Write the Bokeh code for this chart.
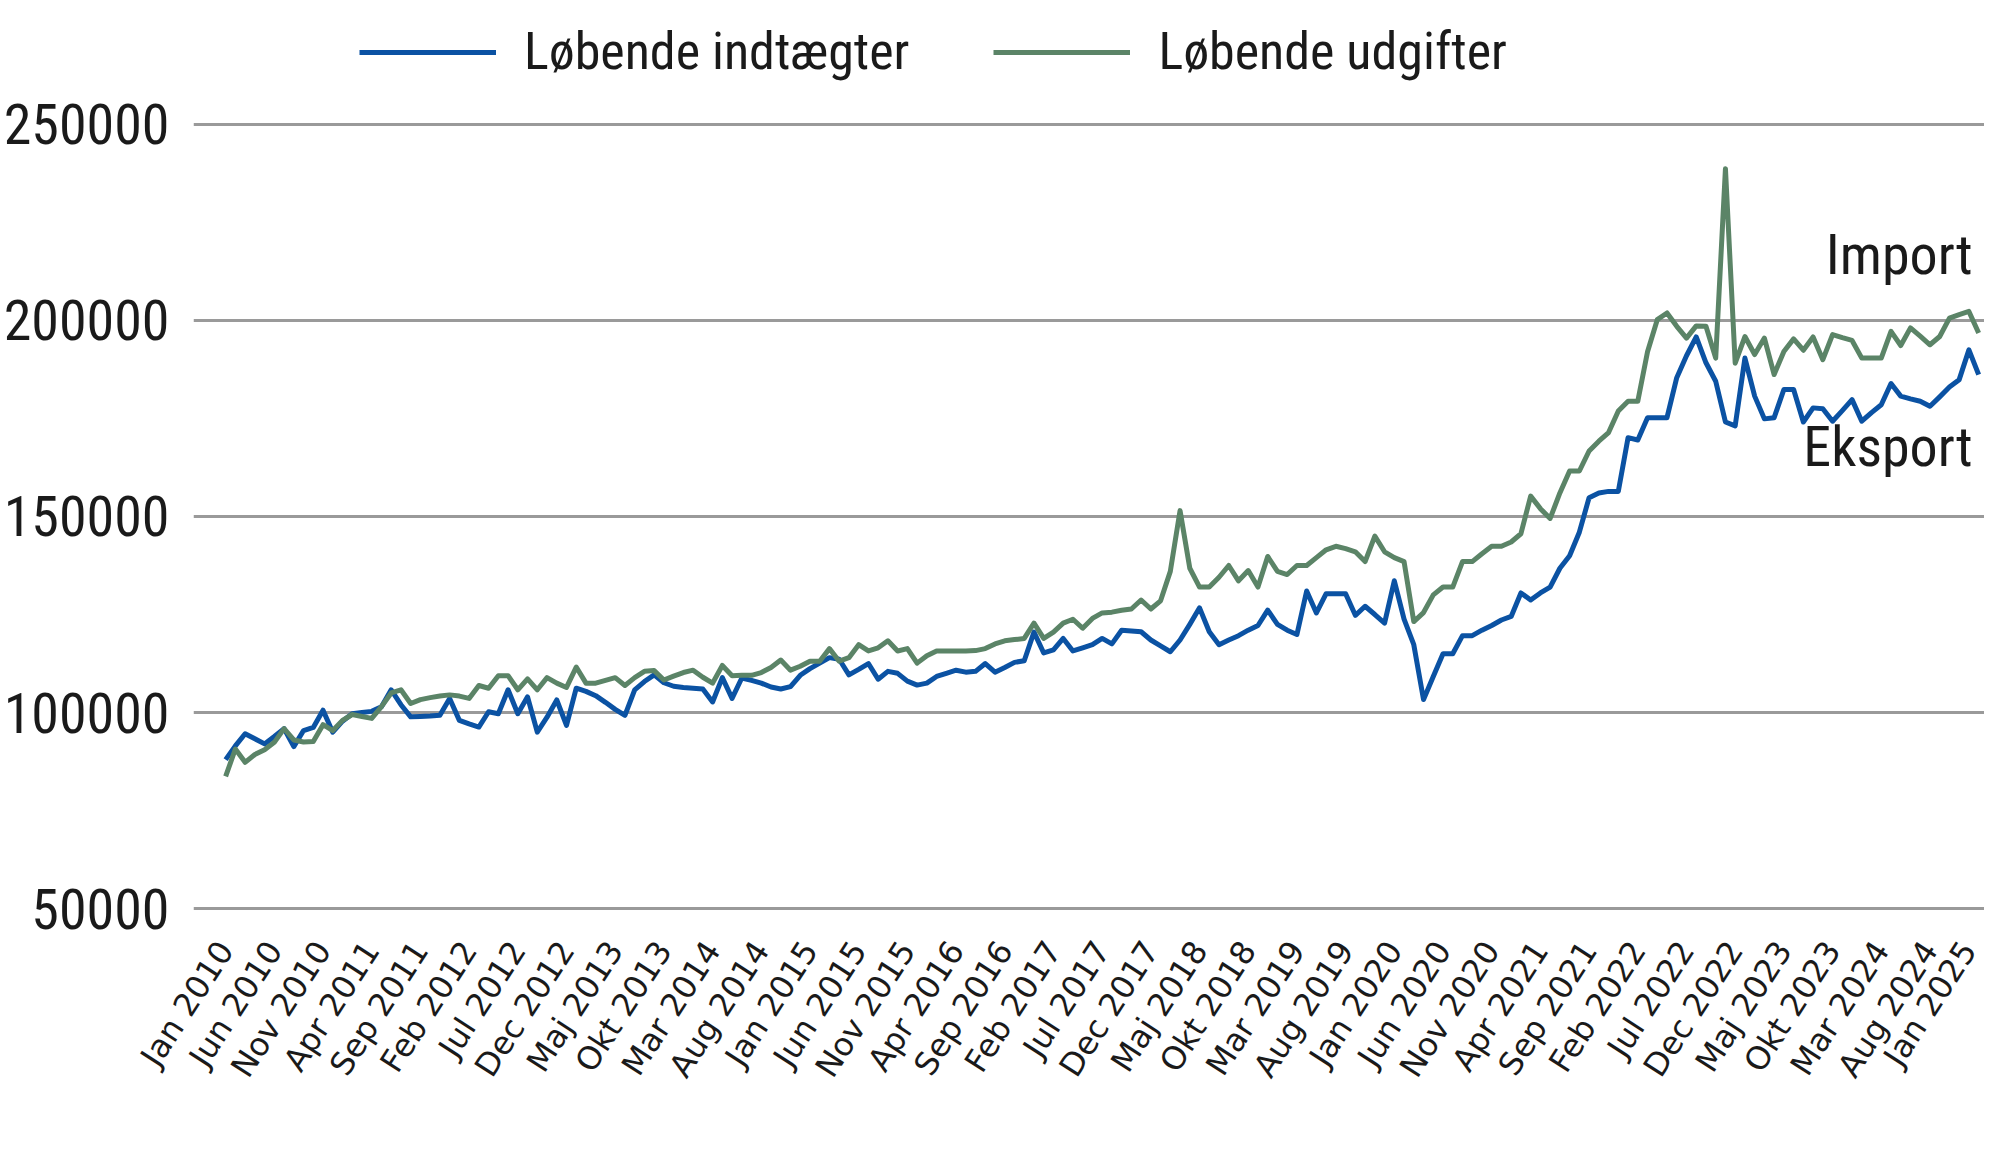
import math
from bokeh.plotting import figure
from bokeh.models import Legend, LegendItem, FixedTicker, Label, Range1d
from bokeh.embed import file_html
from bokeh.resources import INLINE

# x-axis tick labels (every 5th month, Jan 2010 .. Jan 2025)
tick_labels = ["Jan 2010", "Jun 2010", "Nov 2010", "Apr 2011", "Sep 2011", "Feb 2012",
               "Jul 2012", "Dec 2012", "Maj 2013", "Okt 2013", "Mar 2014", "Aug 2014",
               "Jan 2015", "Jun 2015", "Nov 2015", "Apr 2016", "Sep 2016", "Feb 2017",
               "Jul 2017", "Dec 2017", "Maj 2018", "Okt 2018", "Mar 2019", "Aug 2019",
               "Jan 2020", "Jun 2020", "Nov 2020", "Apr 2021", "Sep 2021", "Feb 2022",
               "Jul 2022", "Dec 2022", "Maj 2023", "Okt 2023", "Mar 2024", "Aug 2024",
               "Jan 2025"]

y_ticks = [50000, 100000, 150000, 200000, 250000]
y_labels = ["50000", "100000", "150000", "200000", "250000"]

# Løbende indtægter (blue), monthly Jan 2010 .. Jan 2025
indtaegter = [
    88000, 91500, 94600, 93300, 92000, 93900, 95900, 91300, 95400, 96200,
    100600, 95000, 97800, 99700, 100000, 100300, 101500, 105800, 102000, 98900,
    99000, 99100, 99300, 103600, 98000, 97100, 96300, 100200, 99700, 105800,
    99700, 104000, 95000, 98800, 103200, 96700, 106200, 105400, 104300, 102600,
    100800, 99300, 105800, 107900, 109600, 107600, 106700, 106400, 106200, 106000,
    102700, 108900, 103600, 108800, 108200, 107500, 106500, 106000, 106600, 109500,
    111200, 112600, 114000, 113600, 109600, 111000, 112500, 108500, 110500, 110000,
    108000, 107000, 107500, 109200, 110000, 110800, 110300, 110500, 112500, 110300,
    111500, 112800, 113200, 120500, 115200, 116000, 118900, 115700, 116500, 117300,
    118900, 117500, 121000, 120800, 120600, 118500, 117000, 115500, 118500, 122500,
    126700, 120600, 117300, 118500, 119600, 121000, 122200, 126100, 122500, 121000,
    119900, 131000, 125400, 130300, 130300, 130300, 124800, 127100, 125000, 122800,
    133600, 123800, 117300, 103300, 109200, 115000, 115000, 119600, 119600, 121000,
    122200, 123600, 124500, 130500, 128700, 130500, 132000, 136800, 140000, 146000,
    154800, 156000, 156400, 156400, 170100, 169500, 175200, 175200, 175200, 185400,
    191000, 195800, 189200, 184500, 174100, 173100, 190400, 180700, 174900, 175200,
    182400, 182400, 174100, 177700, 177500, 174300, 177000, 179800, 174300, 176500,
    178500, 183900, 180700, 180000, 179400, 178100, 180500, 183000, 184900, 192500,
    186200,
]

# Løbende udgifter (green), monthly Jan 2010 .. Jan 2025
udgifter = [
    83700, 90700, 87300, 89300, 90500, 92400, 95900, 93000, 92500, 92600,
    96900, 95400, 98000, 99500, 99000, 98500, 101500, 105000, 105800, 102300,
    103300, 103800, 104200, 104500, 104200, 103600, 106900, 106200, 109400, 109400,
    105800, 108600, 105800, 108900, 107500, 106400, 111600, 107500, 107500, 108200,
    108900, 106900, 108900, 110500, 110700, 108300, 109300, 110200, 110800, 109000,
    107500, 112000, 109400, 109500, 109500, 110200, 111500, 113400, 110800, 111800,
    113100, 113100, 116300, 113100, 114000, 117300, 115700, 116500, 118300, 115700,
    116300, 112600, 114500, 115700, 115700, 115700, 115700, 115800, 116300, 117500,
    118300, 118600, 118900, 122800, 118900, 120500, 122800, 123800, 121500, 124000,
    125400, 125600, 126100, 126400, 128700, 126400, 128500, 136000, 151500, 136800,
    132000, 132000, 134500, 137500, 133600, 136200, 132000, 139800, 136000, 135200,
    137500, 137500, 139500, 141500, 142400, 141800, 141000, 138500, 145000, 141000,
    139500, 138500, 123200, 125500, 130000, 132000, 132000, 138500, 138500, 140500,
    142400, 142400, 143500, 145600, 155200, 152000, 149500, 156000, 161600, 161600,
    166700, 169200, 171400, 176900, 179400, 179400, 192000, 200200, 201900, 198500,
    195500, 198600, 198500, 190400, 238700, 189100, 195900, 191300, 195500, 186200,
    192100, 195300, 192400, 195800, 190000, 196400, 195600, 194900, 190400, 190400,
    190400, 197200, 193600, 198100, 196000, 193800, 195900, 200600, 201500, 202300,
    196800,
]

months = list(range(len(indtaegter)))
tick_pos = list(range(0, len(indtaegter), 5))

NARROW = "'Liberation Sans Narrow', 'Arial Narrow', 'Roboto Condensed', 'Noto Sans'"
TXT = "#1a1a1a"

p = figure(width=1984, height=1149, output_backend="svg", toolbar_location=None,
           x_range=Range1d(-3.3, 180.6), y_range=Range1d(49000, 281600),
           min_border_left=170, min_border_right=0, min_border_top=0,
           min_border_bottom=237)
p.outline_line_color = None
p.background_fill_color = "white"
p.border_fill_color = "white"

p.xgrid.visible = False
p.ygrid.ticker = FixedTicker(ticks=y_ticks)
p.ygrid.grid_line_color = "#9a9a9a"
p.ygrid.grid_line_width = 3

p.yaxis.ticker = FixedTicker(ticks=y_ticks)
p.yaxis.major_label_overrides = dict(zip(y_ticks, y_labels))
p.yaxis.axis_line_color = None
p.yaxis.major_tick_line_color = None
p.yaxis.minor_tick_line_color = None
p.yaxis.major_label_text_font = NARROW
p.yaxis.major_label_text_font_size = "56px"
p.yaxis.major_label_text_color = TXT
p.yaxis.major_label_standoff = 18

p.xaxis.ticker = FixedTicker(ticks=tick_pos)
p.xaxis.major_label_overrides = dict(zip(tick_pos, tick_labels))
p.xaxis.axis_line_color = None
p.xaxis.major_tick_line_color = None
p.xaxis.minor_tick_line_color = None
p.xaxis.major_label_orientation = math.radians(57)
p.xaxis.major_label_text_font = "DejaVu Sans"
p.xaxis.major_label_text_font_size = "32px"
p.xaxis.major_label_text_color = TXT
p.xaxis.major_label_standoff = 26

r1 = p.line(months, indtaegter, line_color="#0b52a3", line_width=5, line_join="round")
r2 = p.line(months, udgifter, line_color="#5b8467", line_width=5, line_join="round")

legend = Legend(items=[LegendItem(label="Løbende indtægter", renderers=[r1]),
                       LegendItem(label="Løbende udgifter", renderers=[r2])],
                orientation="horizontal", location=(166, 830))
legend.label_text_font = NARROW
legend.label_text_font_size = "52px"
legend.label_text_color = TXT
legend.glyph_width = 137
legend.glyph_height = 40
legend.label_standoff = 28
legend.spacing = 84
legend.padding = 0
legend.margin = 0
legend.border_line_color = None
legend.background_fill_alpha = 0
p.add_layout(legend)

p.add_layout(Label(x=months[-1], y=216600, text="Import", text_align="right",
                   text_baseline="middle", text_font=NARROW, text_font_size="56px",
                   text_color=TXT, x_offset=-6))
p.add_layout(Label(x=months[-1], y=167600, text="Eksport", text_align="right",
                   text_baseline="middle", text_font=NARROW, text_font_size="56px",
                   text_color=TXT, x_offset=-6))

open("out.html", "w").write(file_html(p, INLINE))
